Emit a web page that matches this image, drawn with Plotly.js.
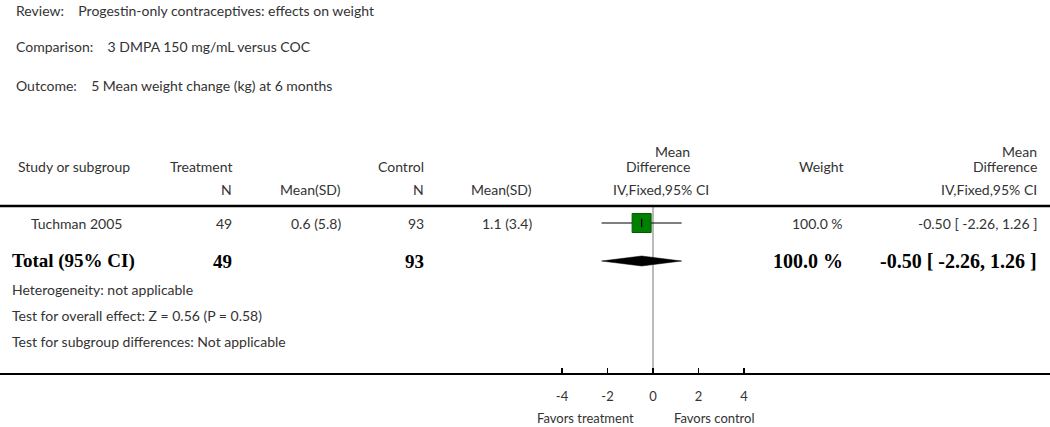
<!DOCTYPE html>
<html><head><meta charset="utf-8">
<script src="https://cdn.plot.ly/plotly-3.0.1.min.js"></script>
<style>html,body{margin:0;padding:0;background:#fff}#chart{width:1050px;height:427px}</style>
</head><body><div id="chart"></div>
<script>
// ---- data ----
const studies = ["Tuchman 2005"];
const treatN = [49];
const treatMeanSD = ["0.6 (5.8)"];
const ctrlN = [93];
const ctrlMeanSD = ["1.1 (3.4)"];
const md = [-0.50];
const ciLow = [-2.26];
const ciHigh = [1.26];
const weightPct = ["100.0 %"];
const totalTreatN = 49;
const totalCtrlN = 93;
const totalMD = -0.50;
const totalLow = -2.26;
const totalHigh = 1.26;
const totalWeight = "100.0 %";
const tickValues = [-4, -2, 0, 2, 4];
const tickLabels = ["-4", "-2", "0", "2", "4"];
const headerInfo = [
  ["Review:", "Progestin-only contraceptives: effects on weight"],
  ["Comparison:", "3 DMPA 150 mg/mL versus COC"],
  ["Outcome:", "5 Mean weight change (kg) at 6 months"]
];
const footerLines = ["Heterogeneity: not applicable",
  "Test for overall effect: Z = 0.56 (P = 0.58)",
  "Test for subgroup differences: Not applicable"];
const favorsLabels = ["Favors treatment", "Favors control"];

// ---- layout helpers ----
const W = 1050, H = 427, AXIS_Y = 373;
const x0px = 653, pxPerUnit = 22.75;
const xr = [-x0px / pxPerUnit, (W - x0px) / pxPerUnit];
const SANS = "Lato, 'Open Sans', sans-serif";
const SERIF = "'Liberation Serif', 'DejaVu Serif', serif";
const TXT = "#333";
const ann = [];
function t(text, px, py, anchor, opts) {
  opts = opts || {};
  anchor = anchor || "left";
  const dx = anchor === "left" ? 1 : anchor === "right" ? -1 : 0;
  const below = py > AXIS_Y;
  ann.push({text: text, x: (px + dx) / W, xref: "paper",
    y: below ? (AXIS_Y - py) / AXIS_Y : py, yref: below ? "paper" : "y",
    xanchor: anchor, yanchor: "middle", showarrow: false, borderpad: 0,
    font: {family: opts.bold ? SERIF : SANS, size: opts.size || 14, color: opts.color || TXT,
           weight: opts.bold ? 700 : 400}});
}
// header info
const infoY = [10, 46, 85];
headerInfo.forEach((h, i) => t(h[0] + "&nbsp;&nbsp;&nbsp;&nbsp;" + h[1], 14, infoY[i], "left"));
// column headers
t("Study or subgroup", 16, 166, "left");
t("Treatment", 234, 166, "right");
t("Control", 426, 166, "right");
t("Mean", 692, 151, "right");
t("Difference", 692, 166, "right");
t("IV,Fixed,95% CI", 661, 189, "center");
t("Weight", 845, 166, "right");
t("Mean", 1039, 151, "right");
t("Difference", 1039, 166, "right");
t("IV,Fixed,95% CI", 1039, 189, "right");
t("N", 234, 189, "right");
t("Mean(SD)", 343, 189, "right");
t("N", 426, 189, "right");
t("Mean(SD)", 534, 189, "right");
// study rows
const rowY = studies.map((s, i) => 223 + i * 26);
const fmt = v => v.toFixed(2);
studies.forEach((s, i) => {
  const y = rowY[i];
  t(s, 29, y, "left");
  t(String(treatN[i]), 234, y, "right");
  t(treatMeanSD[i], 343, y, "right");
  t(String(ctrlN[i]), 426, y, "right");
  t(ctrlMeanSD[i], 534, y, "right");
  t(weightPct[i], 845, y, "right");
  t(fmt(md[i]) + " [ " + fmt(ciLow[i]) + ", " + fmt(ciHigh[i]) + " ]", 1039, y, "right");
});
// total row
const totY = 261;
const B = {bold: true, size: 19, color: "#000"};
const B2 = {bold: true, size: 20, color: "#000"};
t("Total (95% CI)", 10, totY, "left", B);
t(String(totalTreatN), 234, totY, "right", B);
t(String(totalCtrlN), 426, totY, "right", B);
t(totalWeight, 845, totY, "right", B2);
t(fmt(totalMD) + " [ " + fmt(totalLow) + ", " + fmt(totalHigh) + " ]", 1039, totY, "right", B2);
// footer
footerLines.forEach((f, i) => t(f, 10, 289 + i * 26, "left"));
// favors
t(favorsLabels[0], 585, 418, "center", {size: 13});
t(favorsLabels[1], 714, 418, "center", {size: 13});

const traces = [
  {x: md, y: rowY, type: "scatter", mode: "markers",
   marker: {symbol: "square", size: 19, color: "#008000", line: {color: "#005a00", width: 1}},
   error_x: {type: "data", symmetric: false,
     array: md.map((v, i) => ciHigh[i] - v), arrayminus: md.map((v, i) => v - ciLow[i]),
     width: 0, thickness: 1.2, color: "#000"},
   hoverinfo: "skip"},
  {x: md, y: rowY, type: "scatter", mode: "markers",
   marker: {symbol: "line-ns", size: 6, line: {color: "#000", width: 1.2}}, hoverinfo: "skip"},
  {x: [totalLow, totalMD, totalHigh, totalMD, totalLow],
   y: [totY, totY - 5, totY, totY + 5, totY],
   type: "scatter", mode: "lines", fill: "toself", fillcolor: "#000",
   line: {color: "#000", width: 0.5}, hoverinfo: "skip"}
];

const layout = {
  width: W, height: H, margin: {l: 0, r: 0, t: 0, b: H - AXIS_Y},
  paper_bgcolor: "#fff", plot_bgcolor: "#fff", showlegend: false,
  xaxis: {range: xr, tickvals: tickValues, ticktext: tickLabels, ticks: "inside",
    ticklen: 5, tickwidth: 1.5, tickcolor: "#000", showline: true, linecolor: "#000",
    linewidth: 2, showgrid: false, zeroline: false, fixedrange: true,
    ticklabelstandoff: 10,
    tickfont: {family: SANS, size: 13, color: TXT}},
  yaxis: {range: [AXIS_Y, 0], visible: false, showgrid: false, zeroline: false, fixedrange: true},
  shapes: [
    {type: "line", xref: "paper", x0: 0, x1: 1, yref: "y", y0: 206, y1: 206,
     line: {color: "#000", width: 2.5}},
    {type: "line", xref: "x", x0: 0, x1: 0, yref: "y", y0: 206, y1: AXIS_Y,
     line: {color: "#777", width: 1}, layer: "below"}
  ],
  annotations: ann
};
Plotly.newPlot("chart", traces, layout, {displayModeBar: false, staticPlot: true});
</script></body></html>
